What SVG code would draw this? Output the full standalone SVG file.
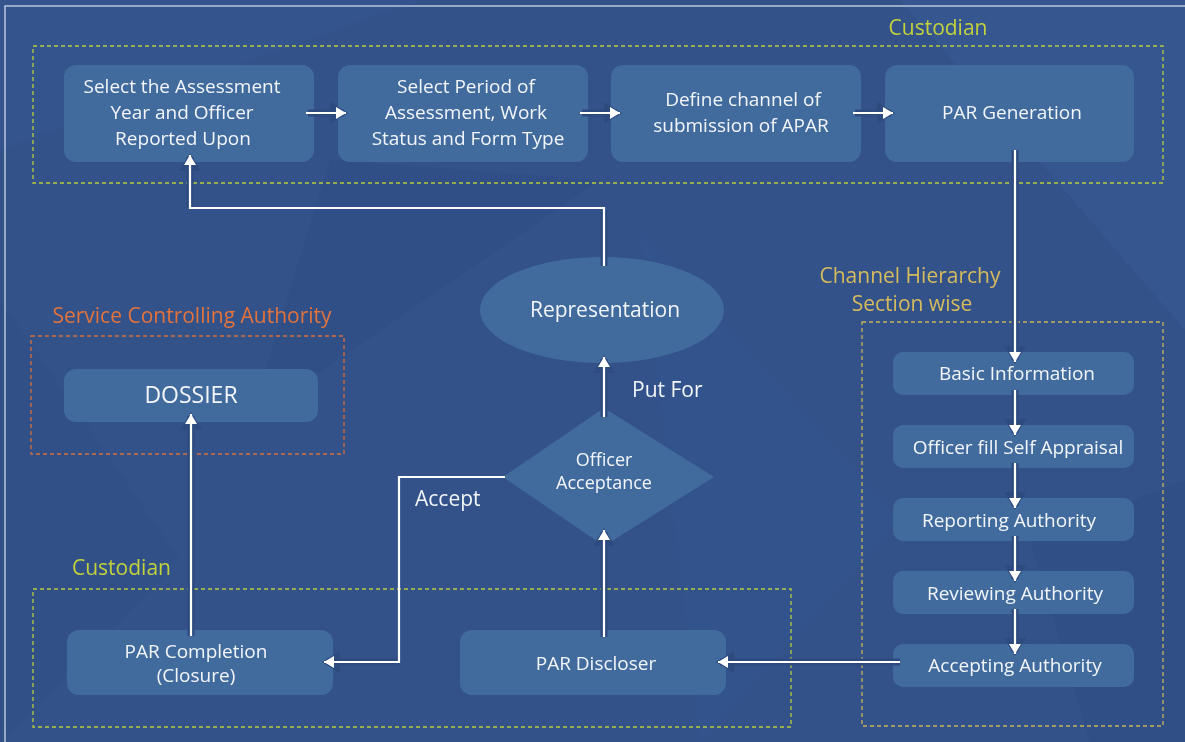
<svg xmlns="http://www.w3.org/2000/svg" width="1185" height="742" viewBox="0 0 1185 742">
<defs>
<style>
.bg{fill:#33528a}
.node{fill:#426b9d}
.t{font-family:"Open Sans","Noto Sans","Liberation Sans",sans-serif;font-size:19px;fill:#f2f5fa;text-anchor:middle}
.big{font-size:23px}
.rep{font-size:21px}
.dia{font-size:18px}
.lbl{font-family:"Open Sans","Noto Sans","Liberation Sans",sans-serif;font-size:21px}
.lime{fill:#c3d23c}
.gold{fill:#d6bb5e}
.orng{fill:#e2733c}
.box{fill:none;stroke-width:1.3;stroke-dasharray:4 3}
.case{fill:none;stroke:#2e4b80;stroke-width:7}
.wire{fill:none;stroke:#ffffff;stroke-width:2.2}
</style>
<marker id="ah" markerUnits="userSpaceOnUse" markerWidth="12" markerHeight="14" refX="10" refY="7" orient="auto">
<path d="M0,1 L10,7 L0,13 z" fill="#ffffff"/>
</marker>
<marker id="ahc" markerUnits="userSpaceOnUse" markerWidth="20" markerHeight="24" refX="14" refY="12" orient="auto">
<path d="M0,1 L18,12 L0,23 z" fill="#2e4b80"/>
</marker>
</defs>
<rect class="bg" x="0" y="0" width="1185" height="742"/>
<g id="texture" opacity="0.5">
<polygon points="0,0 420,0 0,150" fill="#3a5a92" opacity="0.6"/>
<polygon points="900,0 1185,0 1185,330" fill="#3d5e97" opacity="0.7"/>
<polygon points="330,160 600,180 250,420" fill="#2f4b82" opacity="0.7"/>
<polygon points="0,300 180,560 0,742" fill="#2f4c83" opacity="0.6"/>
<polygon points="640,230 900,520 700,742" fill="#37578f" opacity="0.6"/>
<polygon points="1030,540 1185,480 1185,742 1090,742" fill="#2d4a80" opacity="0.6"/>
</g>
<path d="M5,742 V6 H1185" fill="none" stroke="#b9c5dd" stroke-width="1.5"/>

<g id="boxes">
<rect class="box" x="33" y="46" width="1130" height="137" stroke="#b9cb3c"/>
<rect class="box" x="862" y="322" width="301" height="404" stroke="#c9b25a"/>
<rect class="box" x="31" y="336" width="313" height="118" stroke="#d86f3c"/>
<rect class="box" x="33" y="589" width="758" height="138" stroke="#b9cb3c"/>
<text class="lbl lime" x="938" y="35" text-anchor="middle">Custodian</text>
<text class="lbl gold" x="910" y="283" text-anchor="middle">Channel Hierarchy</text>
<text class="lbl gold" x="912" y="311" text-anchor="middle">Section wise</text>
<text class="lbl orng" x="192" y="323" text-anchor="middle">Service Controlling Authority</text>
<text class="lbl lime" x="72" y="575">Custodian</text>
</g>

<g id="n1"><rect class="node" x="64" y="65" width="250" height="97" rx="12"/>
<text class="t" x="182" y="93">Select the Assessment</text><text class="t" x="182" y="119">Year and Officer</text><text class="t" x="183" y="145">Reported Upon</text></g>
<g id="n2"><rect class="node" x="338" y="65" width="250" height="97" rx="12"/>
<text class="t" x="466" y="93">Select Period of</text><text class="t" x="466" y="119">Assessment, Work</text><text class="t" x="468" y="145">Status and Form Type</text></g>
<g id="n3"><rect class="node" x="611" y="65" width="250" height="97" rx="12"/>
<text class="t" x="743" y="106">Define channel of</text><text class="t" x="741" y="132">submission of APAR</text></g>
<g id="n4"><rect class="node" x="885" y="65" width="249" height="97" rx="12"/>
<text class="t" x="1012" y="119">PAR Generation</text></g>

<g id="n5"><rect class="node" x="893" y="352" width="241" height="43" rx="10"/><text class="t" x="1017" y="380">Basic Information</text></g>
<g id="n6"><rect class="node" x="893" y="425" width="241" height="43" rx="10"/><text class="t" x="1018" y="454">Officer fill Self Appraisal</text></g>
<g id="n7"><rect class="node" x="893" y="498" width="241" height="43" rx="10"/><text class="t" x="1009" y="527">Reporting Authority</text></g>
<g id="n8"><rect class="node" x="893" y="571" width="241" height="43" rx="10"/><text class="t" x="1015" y="600">Reviewing Authority</text></g>
<g id="n9"><rect class="node" x="893" y="644" width="241" height="43" rx="10"/><text class="t" x="1015" y="672">Accepting Authority</text></g>

<g id="n10"><rect class="node" x="460" y="630" width="266" height="65" rx="12"/><text class="t" x="596" y="670">PAR Discloser</text></g>
<g id="n11"><rect class="node" x="67" y="630" width="266" height="65" rx="12"/>
<text class="t" x="196" y="658">PAR Completion</text><text class="t" x="196" y="682">(Closure)</text></g>
<g id="n12"><rect class="node" x="64" y="369" width="254" height="53" rx="12"/><text class="t big" x="191" y="403">DOSSIER</text></g>
<g id="n13"><ellipse class="node" cx="602" cy="310" rx="122" ry="53"/><text class="t rep" x="605" y="317">Representation</text></g>
<g id="n14"><polygon class="node" points="503,477 604,408 714,477 604,546"/>
<text class="t dia" x="604" y="466">Officer</text><text class="t dia" x="604" y="489">Acceptance</text></g>

<g id="connectors">
<g id="casing">
<path class="case" d="M308,113 H344" marker-end="url(#ahc)"/>
<path class="case" d="M582,113 H618" marker-end="url(#ahc)"/>
<path class="case" d="M855,113 H891" marker-end="url(#ahc)"/>
<path class="case" d="M1015,150 V360" marker-end="url(#ahc)"/>
<path class="case" d="M1015,390 V433" marker-end="url(#ahc)"/>
<path class="case" d="M1015,463 V506" marker-end="url(#ahc)"/>
<path class="case" d="M1015,536 V579" marker-end="url(#ahc)"/>
<path class="case" d="M1015,609 V652" marker-end="url(#ahc)"/>
<path class="case" d="M900,662 H720" marker-end="url(#ahc)"/>
<path class="case" d="M604,637 V532" marker-end="url(#ahc)"/>
<path class="case" d="M604,417 V359" marker-end="url(#ahc)"/>
<path class="case" d="M604,266 V210" />
<path class="case" d="M190,208 V157" marker-end="url(#ahc)"/>
<path class="case" d="M399,662 H326" marker-end="url(#ahc)"/>
<path class="case" d="M191,636 V416" marker-end="url(#ahc)"/>
</g>
<path class="wire" d="M306,113 H346" marker-end="url(#ah)"/>
<path class="wire" d="M580,113 H620" marker-end="url(#ah)"/>
<path class="wire" d="M853,113 H893" marker-end="url(#ah)"/>
<path class="wire" d="M1015,150 V362" marker-end="url(#ah)"/>
<path class="wire" d="M1015,390 V435" marker-end="url(#ah)"/>
<path class="wire" d="M1015,463 V508" marker-end="url(#ah)"/>
<path class="wire" d="M1015,536 V581" marker-end="url(#ah)"/>
<path class="wire" d="M1015,609 V654" marker-end="url(#ah)"/>
<path class="wire" d="M900,662 H718" marker-end="url(#ah)"/>
<path class="wire" d="M604,637 V530" marker-end="url(#ah)"/>
<path class="wire" d="M604,417 V357" marker-end="url(#ah)"/>
<path class="wire" d="M604,266 V208 H190 V155" marker-end="url(#ah)"/>
<path class="wire" d="M505,477 H399 V662 H324" marker-end="url(#ah)"/>
<path class="wire" d="M191,636 V414" marker-end="url(#ah)"/>
<text class="lbl" x="632" y="397" fill="#f2f5fa" font-size="22">Put For</text>
<text class="lbl" x="415" y="506" fill="#f2f5fa">Accept</text>
</g>
</svg>
